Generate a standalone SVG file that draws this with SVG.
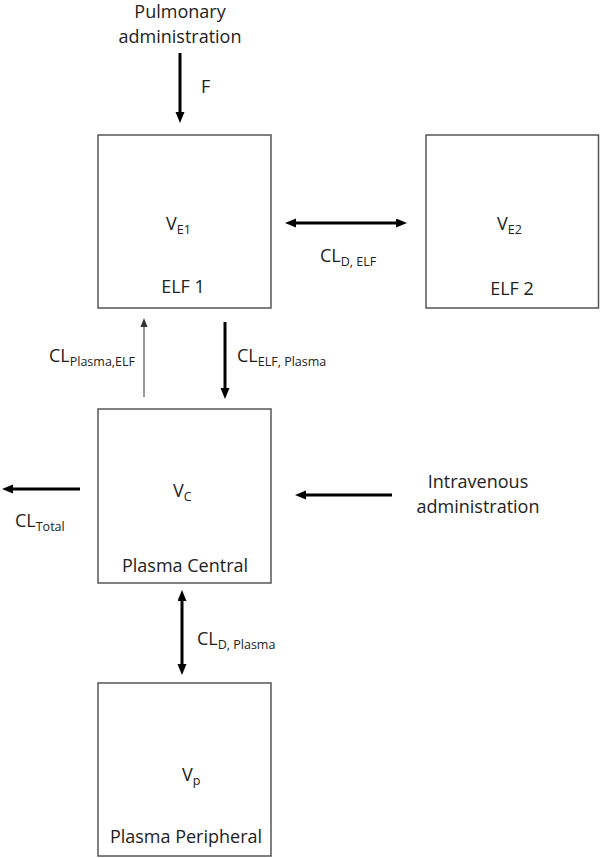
<svg xmlns="http://www.w3.org/2000/svg" width="600" height="858" viewBox="0 0 600 858">
<style>
text{font-family:"Open Sans","Noto Sans","Liberation Sans",sans-serif;font-size:18px;fill:#222}
.sub{font-size:12.5px}
.box{fill:#fff;stroke:#555;stroke-width:1.5}
.thick{stroke:#000;stroke-width:3;fill:none}
.thin{stroke:#555;stroke-width:1.2;fill:none}
.c{text-anchor:middle}
</style>
<defs>
<marker id="ah" markerUnits="userSpaceOnUse" markerWidth="12" markerHeight="10" refX="2" refY="4.5" orient="auto-start-reverse" viewBox="0 0 12 10">
<path d="M0,0 L11,4.5 L0,9 z" fill="#000"/>
</marker>
<marker id="ahthin" markerUnits="userSpaceOnUse" markerWidth="10" markerHeight="8" refX="2" refY="4" orient="auto" viewBox="0 0 10 8">
<path d="M0,0.5 L9,4 L0,7.5 z" fill="#333"/>
</marker>
</defs>
<rect width="600" height="858" fill="#fff"/>

<g id="connectors">
<line class="thick" x1="180" y1="53" x2="180" y2="114" marker-end="url(#ah)"/>
<line class="thick" x1="294" y1="223" x2="398" y2="223" marker-start="url(#ah)" marker-end="url(#ah)"/>
<line class="thin" x1="144" y1="397" x2="144" y2="325" marker-end="url(#ahthin)"/>
<line class="thick" x1="225" y1="322" x2="225" y2="390" marker-end="url(#ah)"/>
<line class="thick" x1="80" y1="489" x2="11" y2="489" marker-end="url(#ah)"/>
<line class="thick" x1="392" y1="495" x2="304" y2="495" marker-end="url(#ah)"/>
<line class="thick" x1="182" y1="599" x2="182" y2="666" marker-start="url(#ah)" marker-end="url(#ah)"/>
</g>

<g id="labels">
<text class="c" x="180" y="18">Pulmonary</text>
<text class="c" x="180" y="43">administration</text>
<text x="201" y="93">F</text>
<text x="320" y="262">CL<tspan class="sub" dy="4">D, ELF</tspan></text>
<text x="49" y="362">CL<tspan class="sub" dy="4">Plasma,ELF</tspan></text>
<text x="237" y="362">CL<tspan class="sub" dy="4">ELF, Plasma</tspan></text>
<text x="15" y="527">CL<tspan class="sub" dy="4">Total</tspan></text>
<text class="c" x="478" y="488">Intravenous</text>
<text class="c" x="478" y="513">administration</text>
<text x="197" y="645">CL<tspan class="sub" dy="4">D, Plasma</tspan></text>
</g>

<g id="elf1">
<rect class="box" x="98" y="135" width="173" height="173"/>
<text x="166" y="230">V<tspan class="sub" dy="4">E1</tspan></text>
<text class="c" x="183" y="293">ELF 1</text>
</g>

<g id="elf2">
<rect class="box" x="426" y="135" width="172.5" height="173"/>
<text x="497" y="230">V<tspan class="sub" dy="4">E2</tspan></text>
<text class="c" x="512" y="295">ELF 2</text>
</g>

<g id="plasma-central">
<rect class="box" x="98" y="409" width="173" height="174"/>
<text x="173" y="497">V<tspan class="sub" dy="4">C</tspan></text>
<text class="c" x="185" y="572">Plasma Central</text>
</g>

<g id="plasma-peripheral">
<rect class="box" x="98" y="683" width="173" height="173"/>
<text x="182" y="781">V<tspan class="sub" dy="4">p</tspan></text>
<text class="c" x="186" y="843">Plasma Peripheral</text>
</g>
</svg>
